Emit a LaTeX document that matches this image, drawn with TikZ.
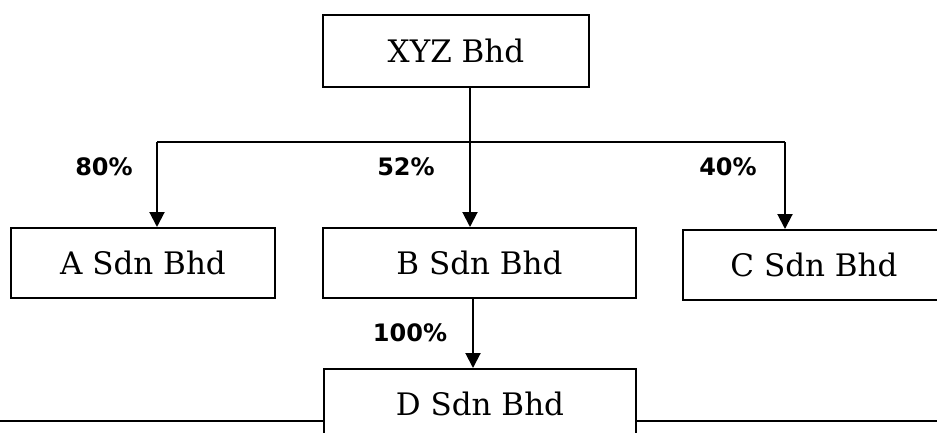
\documentclass[tikz,border=0pt]{standalone}
\usepackage{fontspec}
\setmainfont{DejaVu Serif}
\newfontfamily\pctfont{DejaVu Sans}
\usetikzlibrary{arrows.meta}
\tikzset{
  box/.style={draw, line width=2pt, inner sep=0pt, font=\fontsize{31}{31}\selectfont},
  pct/.style={inner sep=0pt, font=\pctfont\bfseries\fontsize{24}{24}\selectfont},
  link/.style={line width=2pt},
  arr/.style={line width=2pt, -{Triangle[length=15pt,width=15pt]}}
}
\begin{document}
\begin{tikzpicture}[x=1pt,y=-1pt]
\clip (0,0) rectangle (937,432);
\fill[white] (0,0) rectangle (937,432);
\node[box, minimum width=266pt, minimum height=72pt] (XYZ) at (456,51) {XYZ Bhd};
\node[box, minimum width=264pt, minimum height=70pt] (A) at (143,263) {A Sdn Bhd};
\node[box, minimum width=313pt, minimum height=70pt] (B) at (479.5,263) {B Sdn Bhd};
\node[box, minimum width=262pt, minimum height=70pt] (C) at (814,265) {C Sdn Bhd};
\node[box, minimum width=312pt, minimum height=70pt] (D) at (480,404) {D Sdn Bhd};
\coordinate (hl) at (157,142);
\coordinate (hr) at (785,142);
\coordinate (tx) at (470,0);
\coordinate (bd) at (473,0);
\coordinate (ll) at (0,421);
\coordinate (rr) at (937,421);
\draw[link] (hl) -- (hr);
\draw[arr] (hl) -- (hl |- A.north);
\draw[arr] (hr) -- (hr |- C.north);
\draw[arr] (XYZ.south -| tx) -- (B.north -| tx);
\draw[arr] (B.south -| bd) -- (D.north -| bd);
\draw[link] (ll) -- (ll -| D.west);
\draw[link] (D.east |- rr) -- (rr);
\node[pct] (p80) at (104,167) {80\%};
\node[pct] (p52) at (406,167) {52\%};
\node[pct] (p40) at (728,167) {40\%};
\node[pct] (p100) at (410,333) {100\%};
\end{tikzpicture}
\end{document}
